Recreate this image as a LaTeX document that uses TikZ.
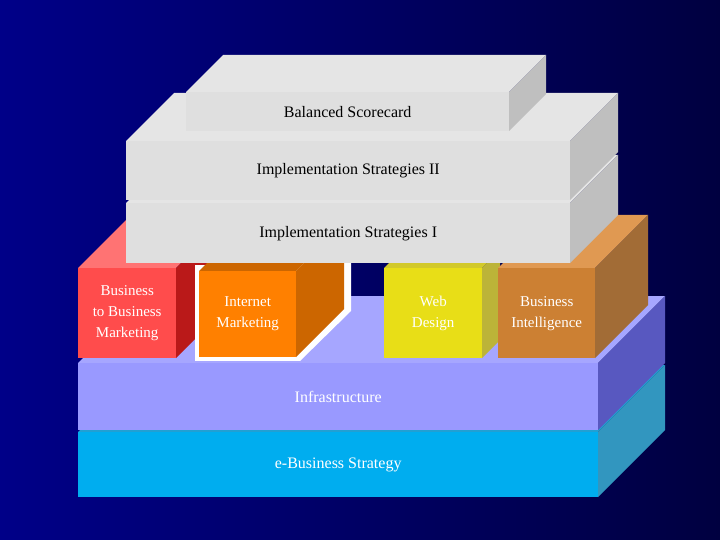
\documentclass[tikz,border=0pt]{standalone}
\usepackage{fontspec}
\setmainfont{Liberation Serif}
\usetikzlibrary{positioning}

\definecolor{bgdark}{HTML}{000040}
\definecolor{bglight}{HTML}{000088}
% colour schemes: front, top, side
\colorlet{cyanF}{cyan}          \colorlet{cyanT}{cyan!85!black}   \colorlet{cyanS}{cyan!75!black}
\colorlet{infraF}{blue!40!white} \colorlet{infraT}{blue!35!white} \colorlet{infraS}{blue!45!gray!90}
\colorlet{redF}{red!70!white}    \colorlet{redT}{red!55!white}    \colorlet{redS}{red!70!black!90}
\colorlet{orangeF}{orange}       \colorlet{orangeT}{orange!80!black} \colorlet{orangeS}{orange!80!black}
\colorlet{yellowF}{yellow!90!black} \colorlet{yellowT}{yellow!80!black} \colorlet{yellowS}{yellow!70!black}
\colorlet{brownF}{brown!80!orange} \colorlet{brownT}{brown!60!orange!80!white} \colorlet{brownS}{brown!85!black}
\colorlet{greyF}{gray!25}        \colorlet{greyT}{gray!20}        \colorlet{greyS}{gray!50}

% \slab{name}{x}{y}{width}{height}{depth}{scheme}{node options}{text}
\newcommand{\slab}[9]{%
  \fill[#7T] (#2,#3) -- ++(#6,-#6) -- ++(#4,0) -- ++(-#6,#6) -- cycle;
  \fill[#7S] (#2+#4,#3) -- ++(#6,-#6) -- ++(0,#5) -- ++(-#6,#6) -- cycle;
  \node[front, fill=#7F, minimum width=#4, minimum height=#5,
        anchor=north west, #8] (#1) at (#2,#3) {#9};
}

\begin{document}
\begin{tikzpicture}[x=1pt,y=-1pt,
    front/.style={inner sep=0pt, align=center, text=white, font=\fontsize{16}{19}\selectfont},
    dark/.style={text=black},
    small/.style={font=\fontsize{15}{21}\selectfont}]
  \shade[left color=bglight, right color=bgdark] (0,0) rectangle (720,540);
  \useasboundingbox (0,0) rectangle (720,540);
  % base layers
  \slab{strategy}{78}{432}{520}{65}{67}{cyan}{}{e-Business Strategy}
  \slab{infra}{78}{363}{520}{67}{67}{infra}{}{Infrastructure}
  % middle blocks
  \slab{btob}{78}{268}{98}{90}{50}{red}{small}{Business\\to Business\\Marketing}
  \fill[white] (195,265) rectangle (300,361);
  \fill[white] (300,265) -- (351,215) -- (351,311) -- (300,361) -- cycle;
  \slab{inetmkt}{199}{271}{97}{86}{48}{orange}{small}{Internet\\Marketing}
  \slab{webdesign}{384}{268}{98}{90}{18}{yellow}{small}{Web\\Design}
  \slab{bizintel}{498}{268}{97}{90}{53}{brown}{small}{Business\\Intelligence}
  % upper layers
  \slab{implone}{126}{203}{444}{60}{48}{grey}{dark}{Implementation Strategies I}
  \slab{impltwo}{126}{141}{444}{59}{48}{grey}{dark}{Implementation Strategies II}
  \slab{scorecard}{186}{92}{323}{39}{37}{grey}{dark}{Balanced Scorecard}
\end{tikzpicture}
\end{document}
